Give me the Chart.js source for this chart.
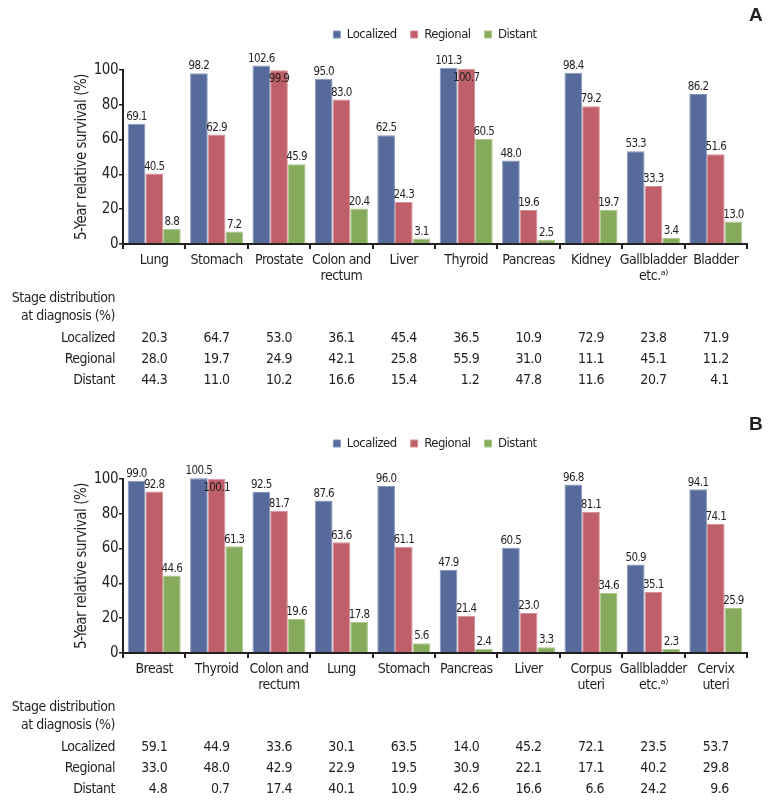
<!DOCTYPE html>
<html>
<head>
<meta charset="utf-8">
<script src="https://cdn.jsdelivr.net/npm/chart.js@4.4.1/dist/chart.umd.min.js"></script>
<style>
  body { margin: 0; background: #fff; }
  .panel { position: relative; width: 774px; }
  #panel-a { height: 409px; }
  #panel-b { height: 394px; }
  .tag { position: absolute; left: 749px; top: 4px; font: bold 19px 'Liberation Sans', Arial, sans-serif; color: #231f20; }
</style>
</head>
<body>
<div class="panel" id="panel-a">
  <canvas id="chart-a" width="774" height="409"></canvas>
  <div class="tag">A</div>
</div>
<div class="panel" id="panel-b">
  <canvas id="chart-b" width="774" height="394"></canvas>
  <div class="tag">B</div>
</div>
<script>
// 数据
const stages = ['Localized', 'Regional', 'Distant'];
const yTicks = [0, 20, 40, 60, 80, 100];

const sitesA = ['Lung', 'Stomach', 'Prostate', ['Colon and', 'rectum'], 'Liver', 'Thyroid', 'Pancreas', 'Kidney', ['Gallbladder', 'etc.\u1d43\u207e'], 'Bladder'];
const localizedA = [69.1, 98.2, 102.6, 95.0, 62.5, 101.3, 48.0, 98.4, 53.3, 86.2];
const regionalA = [40.5, 62.9, 99.9, 83.0, 24.3, 100.7, 19.6, 79.2, 33.3, 51.6];
const distantA = [8.8, 7.2, 45.9, 20.4, 3.1, 60.5, 2.5, 19.7, 3.4, 13.0];
const stageLocalizedA = [20.3, 64.7, 53.0, 36.1, 45.4, 36.5, 10.9, 72.9, 23.8, 71.9];
const stageRegionalA = [28.0, 19.7, 24.9, 42.1, 25.8, 55.9, 31.0, 11.1, 45.1, 11.2];
const stageDistantA = [44.3, 11.0, 10.2, 16.6, 15.4, 1.2, 47.8, 11.6, 20.7, 4.1];

const sitesB = ['Breast', 'Thyroid', ['Colon and', 'rectum'], 'Lung', 'Stomach', 'Pancreas', 'Liver', ['Corpus', 'uteri'], ['Gallbladder', 'etc.\u1d43\u207e'], ['Cervix', 'uteri']];
const localizedB = [99.0, 100.5, 92.5, 87.6, 96.0, 47.9, 60.5, 96.8, 50.9, 94.1];
const regionalB = [92.8, 100.1, 81.7, 63.6, 61.1, 21.4, 23.0, 81.1, 35.1, 74.1];
const distantB = [44.6, 61.3, 19.6, 17.8, 5.6, 2.4, 3.3, 34.6, 2.3, 25.9];
const stageLocalizedB = [59.1, 44.9, 33.6, 30.1, 63.5, 14.0, 45.2, 72.1, 23.5, 53.7];
const stageRegionalB = [33.0, 48.0, 42.9, 22.9, 19.5, 30.9, 22.1, 17.1, 40.2, 29.8];
const stageDistantB = [4.8, 0.7, 17.4, 40.1, 10.9, 42.6, 16.6, 6.6, 24.2, 9.6];

const FONT = "'Liberation Sans Narrow', 'DejaVu Sans Condensed', 'Roboto Condensed', Roboto, sans-serif";
const INK = '#231f20';
const fills = ['#566b9b', '#bf5f6a', '#86ab5c'];
const edges = ['#8495bb', '#d88f97', '#aac78a'];

// 字距收紧，模拟窄体字
const narrowText = {
  id: 'narrowText',
  beforeLayout(chart) { chart.ctx.letterSpacing = '-0.5px'; },
  beforeDraw(chart) { chart.ctx.letterSpacing = '-0.5px'; }
};

// 柱顶数值
const barValueLabels = {
  id: 'barValueLabels',
  afterDatasetsDraw(chart) {
    const ctx = chart.ctx;
    ctx.save();
    ctx.font = '11.5px ' + FONT;
    ctx.letterSpacing = '-0.6px';
    ctx.fillStyle = INK;
    ctx.textAlign = 'center';
    chart.data.datasets.forEach((ds, di) => {
      const meta = chart.getDatasetMeta(di);
      meta.data.forEach((bar, i) => {
        const v = ds.data[i];
        const prev = di > 0 ? chart.data.datasets[di - 1].data[i] : null;
        // 与左侧标签挤在一起时放到柱内
        if (prev !== null && prev >= v && prev - v < 4) {
          ctx.textBaseline = 'top';
          ctx.fillText(v.toFixed(1), bar.x, bar.y + 3);
        } else {
          ctx.textBaseline = 'bottom';
          ctx.fillText(v.toFixed(1), bar.x, bar.y - 1);
        }
      });
    });
    ctx.restore();
  }
};

// 下方分期分布表
const stageTable = {
  id: 'stageTable',
  afterDraw(chart, args, opts) {
    const ctx = chart.ctx;
    const x = chart.scales.x;
    const base = chart.chartArea.bottom;
    ctx.save();
    ctx.font = '14px ' + FONT;
    ctx.letterSpacing = '-0.5px';
    ctx.fillStyle = INK;
    ctx.textBaseline = 'middle';
    ctx.textAlign = 'right';
    ctx.fillText('Stage distribution', 115, base + 54);
    ctx.fillText('at diagnosis (%)', 115, base + 72);
    opts.rows.forEach((row, r) => {
      const y = base + 94 + r * 21;
      ctx.fillText(stages[r], 115, y);
      row.forEach((v, i) => {
        ctx.fillText(v.toFixed(1), x.getPixelForValue(i) + 13, y);
      });
    });
    ctx.restore();
  }
};

// 图例下方留白
const legendGap = {
  id: 'legendGap',
  beforeInit(chart) {
    const fit = chart.legend.fit;
    chart.legend.fit = function () {
      fit.bind(chart.legend)();
      this.height += 19;
    };
  }
};

function makeChart(id, sites, series, rows, canvasH) {
  return new Chart(document.getElementById(id), {
    type: 'bar',
    data: {
      labels: sites,
      datasets: series.map((d, i) => ({
        label: stages[i],
        data: d,
        backgroundColor: fills[i],
        borderColor: edges[i],
        borderWidth: 1,
        clip: false
      }))
    },
    options: {
      responsive: false,
      animation: false,
      datasets: { bar: { categoryPercentage: 0.85, barPercentage: 1.0 } },
      layout: { padding: { top: 14, right: 27, left: 0, bottom: 0 } },
      plugins: {
        legend: {
          fullSize: false,
          labels: { font: { family: FONT, size: 13 }, color: INK, boxWidth: 7, boxHeight: 7, padding: 14 }
        },
        tooltip: { enabled: false },
        stageTable: { rows: rows }
      },
      scales: {
        x: {
          grid: { offset: true, drawOnChartArea: false, color: INK, lineWidth: 2, tickLength: 5 },
          border: { color: INK, width: 2 },
          ticks: { font: { family: FONT, size: 14, lineHeight: 1.15 }, color: INK, padding: 3, maxRotation: 0, autoSkip: false },
          afterFit: (scale) => { scale.height = canvasH - 244; }
        },
        y: {
          min: 0,
          max: 100,
          afterBuildTicks: (scale) => { scale.ticks = yTicks.map(v => ({ value: v })); },
          grid: { drawOnChartArea: false, color: INK, lineWidth: 1.5, tickLength: 4 },
          border: { color: INK, width: 2 },
          ticks: { font: { family: FONT, size: 15 }, color: INK, padding: 1 },
          title: { display: true, text: '5-Year relative survival (%)', font: { family: FONT, size: 15 }, color: INK, padding: { top: 73, bottom: 0 } },
          afterFit: (scale) => { scale.width = 123; }
        }
      }
    },
    plugins: [narrowText, legendGap, barValueLabels, stageTable]
  });
}

makeChart('chart-a', sitesA, [localizedA, regionalA, distantA], [stageLocalizedA, stageRegionalA, stageDistantA], 409);
makeChart('chart-b', sitesB, [localizedB, regionalB, distantB], [stageLocalizedB, stageRegionalB, stageDistantB], 394);
</script>
</body>
</html>
